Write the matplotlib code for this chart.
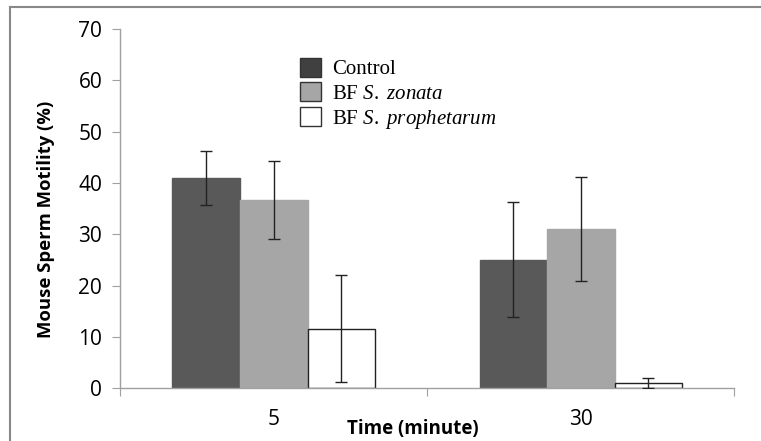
import matplotlib
matplotlib.use("Agg")
import matplotlib.pyplot as plt
from matplotlib.lines import Line2D
from matplotlib.patches import Patch

plt.rcParams["mathtext.fontset"] = "custom"
plt.rcParams["mathtext.rm"] = "Liberation Serif"
plt.rcParams["mathtext.it"] = "Liberation Serif:italic"

# values
times = ["5", "30"]
series = ["Control", "BF $\\it{S.\\ zonata}$", "BF $\\it{S.\\ prophetarum}$"]
control = [41.0, 25.0]
control_err = [5.3, 11.2]
zonata = [36.6, 31.0]
zonata_err = [7.6, 10.2]
propht = [11.6, 1.0]
propht_err = [10.4, 0.9]

colors = ["#595959", "#a6a6a6", "white"]
edges = ["#595959", "#a6a6a6", "#222222"]

fig = plt.figure(figsize=(7.61, 4.41), dpi=100)
ax = fig.add_axes([0.158, 0.120, 0.807, 0.814])

w = 0.22
xs = list(range(len(times)))
vals = [control, zonata, propht]
errs = [control_err, zonata_err, propht_err]
for i in range(3):
    pos = [x + (i - 1) * w for x in xs]
    ax.bar(pos, vals[i], width=w, color=colors[i], edgecolor=edges[i], linewidth=1.0, zorder=2)
    ax.errorbar(pos, vals[i], yerr=errs[i], fmt="none", ecolor="#222222",
                elinewidth=1.0, capsize=4, capthick=1.0, zorder=3)

ax.set_xlim(-0.5, 1.5)
ax.set_ylim(0, 70)
ax.set_yticks(range(0, 71, 10))
ax.set_xticks([-0.5, 0.5, 1.5])
ax.set_xticklabels(["", "", ""])
ax.set_xticks(xs, minor=True)
ax.set_xticklabels(times, minor=True, fontsize=15, family="Open Sans")
ax.tick_params(axis="x", which="major", length=6, color="#a0a0a0", direction="out")
ax.tick_params(axis="x", which="minor", length=0, pad=15)
ax.tick_params(axis="y", length=6, color="#a0a0a0", labelsize=15, pad=7)
for lab in ax.get_yticklabels():
    lab.set_family("Open Sans")

for s in ["top", "right"]:
    ax.spines[s].set_visible(False)
for s in ["left", "bottom"]:
    ax.spines[s].set_color("#a0a0a0")
    ax.spines[s].set_linewidth(1.0)

ax.set_ylabel("Mouse Sperm Motility (%)", fontsize=13.3, fontweight="bold",
              family="Open Sans", labelpad=17)
ax.yaxis.label.set_y(0.47)
fig.text(0.543, 0.028, "Time (minute)", fontsize=13.5, fontweight="bold",
         family="Open Sans", ha="center", va="center")

handles = [Patch(facecolor=c, edgecolor="#333333", linewidth=1.0) for c in ["#404040", "#a6a6a6", "white"]]
leg = ax.legend(handles, series, loc="upper left", bbox_to_anchor=(0.262, 0.972),
                frameon=False, prop={"family": "Liberation Serif", "size": 15},
                handlelength=1.0, handleheight=1.0, handletextpad=0.55, labelspacing=0.15)

# outer frame (top and left edges visible in the picture)
fig.add_artist(Line2D([10 / 761, 1.0], [1 - 7 / 441, 1 - 7 / 441], color="#888888", lw=1.5))
fig.add_artist(Line2D([10 / 761, 10 / 761], [0.0, 1 - 7 / 441], color="#888888", lw=1.5))

fig.savefig("out.png", dpi=100)
